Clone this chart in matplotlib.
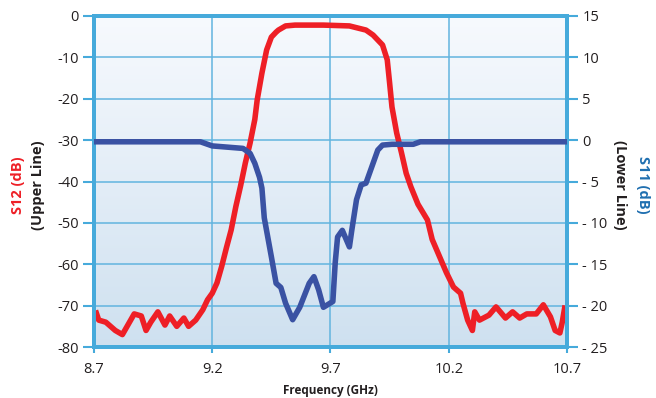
import matplotlib.pyplot as plt
import numpy as np

# S12 (left axis, dB)
s12_freq = [8.71, 8.72, 8.75, 8.79, 8.82, 8.84, 8.87, 8.90, 8.92, 8.94, 8.97, 9.00, 9.02,
            9.05, 9.08, 9.10, 9.13, 9.16, 9.18, 9.20, 9.22, 9.24, 9.26, 9.28, 9.30,
            9.32, 9.34, 9.36, 9.38, 9.39, 9.41, 9.43, 9.45, 9.47, 9.48, 9.51, 9.55,
            9.61, 9.67, 9.78, 9.85, 9.88, 9.92, 9.94, 9.95, 9.96, 9.98, 10.00, 10.02,
            10.04, 10.07, 10.11, 10.13, 10.16, 10.19, 10.22, 10.25, 10.26, 10.28,
            10.30, 10.31, 10.33, 10.37, 10.40, 10.44, 10.47, 10.50, 10.53, 10.57,
            10.60, 10.63, 10.65, 10.67, 10.68, 10.69]
s12_db = [-71.8, -73.5, -74.0, -76.0, -77.0, -75.0, -72.0, -72.5, -76.0, -74.0, -71.5,
          -74.7, -72.5, -75.0, -73.0, -75.0, -73.5, -71.0, -68.6, -67.0, -64.5, -60.5,
          -56.0, -51.7, -46.0, -41.0, -35.5, -30.7, -25.0, -20.3, -13.8, -8.2, -5.1,
          -3.9, -3.4, -2.4, -2.2, -2.2, -2.2, -2.4, -3.4, -4.6, -7.0, -10.6, -16.2,
          -22.0, -28.3, -33.0, -38.0, -41.3, -45.5, -49.3, -54.0, -58.0, -62.0,
          -65.5, -67.0, -69.4, -73.5, -76.0, -71.5, -73.5, -72.3, -70.3, -73.0,
          -71.5, -73.0, -72.0, -72.0, -69.8, -72.7, -76.0, -76.6, -74.0, -70.6]

# S11 (right axis, dB)
s11_freq = [8.70, 9.15, 9.20, 9.33, 9.36, 9.38, 9.40, 9.41, 9.42, 9.45, 9.47, 9.49,
            9.51, 9.54, 9.57, 9.61, 9.63, 9.65, 9.67, 9.71, 9.72, 9.73, 9.75, 9.78,
            9.79, 9.81, 9.83, 9.85, 9.88, 9.90, 9.92, 9.96, 10.05, 10.08, 10.70]
s11_db = [-0.2, -0.2, -0.7, -1.0, -1.6, -2.8, -4.5, -5.8, -9.4, -14.1, -17.3, -17.8,
          -19.7, -21.7, -20.2, -17.3, -16.5, -18.1, -20.2, -19.5, -14.8, -11.7,
          -10.9, -12.9, -10.9, -7.2, -5.4, -5.2, -2.8, -1.2, -0.6, -0.5, -0.5, -0.2, -0.2]

x_ticks = [8.7, 9.2, 9.7, 10.2, 10.7]
left_ticks = [0, -10, -20, -30, -40, -50, -60, -70, -80]
right_ticks = [15, 10, 5, 0, -5, -10, -15, -20, -25]

RED = "#ee1f26"
BLUE = "#3a52a3"
FRAME = "#46aadb"
GRID = "#62b4df"

plt.rcParams["font.family"] = ["Open Sans", "DejaVu Sans"]

fig = plt.figure(figsize=(6.56, 3.98), dpi=100)
ax = fig.add_axes([0.1433, 0.1281, 0.7210, 0.8317])

# gradient background
grad = np.linspace(0, 1, 256).reshape(-1, 1)
top = np.array([0.97, 0.98, 0.995])
bot = np.array([0.81, 0.88, 0.94])
img = top + (bot - top) * grad[:, :, None]
ax.imshow(img, extent=[0, 1, 0, 1], transform=ax.transAxes, aspect="auto", zorder=0)

ax.set_xlim(8.7, 10.7)
ax.set_ylim(-80, 0)
ax.set_xticks(x_ticks)
ax.set_xticklabels([f"{v:g}" for v in x_ticks])
ax.set_yticks(left_ticks)
ax.set_yticklabels([f"{v:d}" if v == 0 else f"-{abs(v)}" for v in left_ticks])
ax.grid(True, color=GRID, lw=1.1)
ax.set_axisbelow(False)
ax.plot(s12_freq, s12_db, color=RED, lw=4, solid_joinstyle="round", zorder=3)

ax2 = ax.twinx()
ax2.set_ylim(-25, 15)
ax2.set_yticks(right_ticks)
ax2.set_yticklabels([f"{v:d}" if v >= 0 else f"- {abs(v)}" for v in right_ticks])
ax2.plot(s11_freq, s11_db, color=BLUE, lw=4, solid_joinstyle="round", zorder=3)

for a in (ax, ax2):
    for s in a.spines.values():
        s.set_color(FRAME)
        s.set_linewidth(2.8)
    a.tick_params(axis="y", colors=FRAME, labelcolor="#231f20", length=8, width=1.5,
                  labelsize=10.5, pad=3)
ax.tick_params(axis="x", colors=FRAME, labelcolor="#231f20", length=4, width=1.5,
               labelsize=10.5, pad=7)

ax.set_xlabel("Frequency (GHz)", fontsize=8.5, fontweight="bold", color="#231f20", labelpad=5)

fig.text(0.028, 0.535, "S12 (dB)", rotation=90, color=RED, fontsize=10.5,
         fontweight="bold", ha="center", va="center")
fig.text(0.058, 0.535, "(Upper Line)", rotation=90, color="#231f20", fontsize=10.5,
         fontweight="bold", ha="center", va="center")
fig.text(0.945, 0.535, "(Lower Line)", rotation=270, color="#231f20", fontsize=10.5,
         fontweight="bold", ha="center", va="center")
fig.text(0.980, 0.535, "S11 (dB)", rotation=270, color="#1f6fb0", fontsize=10.5,
         fontweight="bold", ha="center", va="center")

fig.savefig("out.png", dpi=100)
